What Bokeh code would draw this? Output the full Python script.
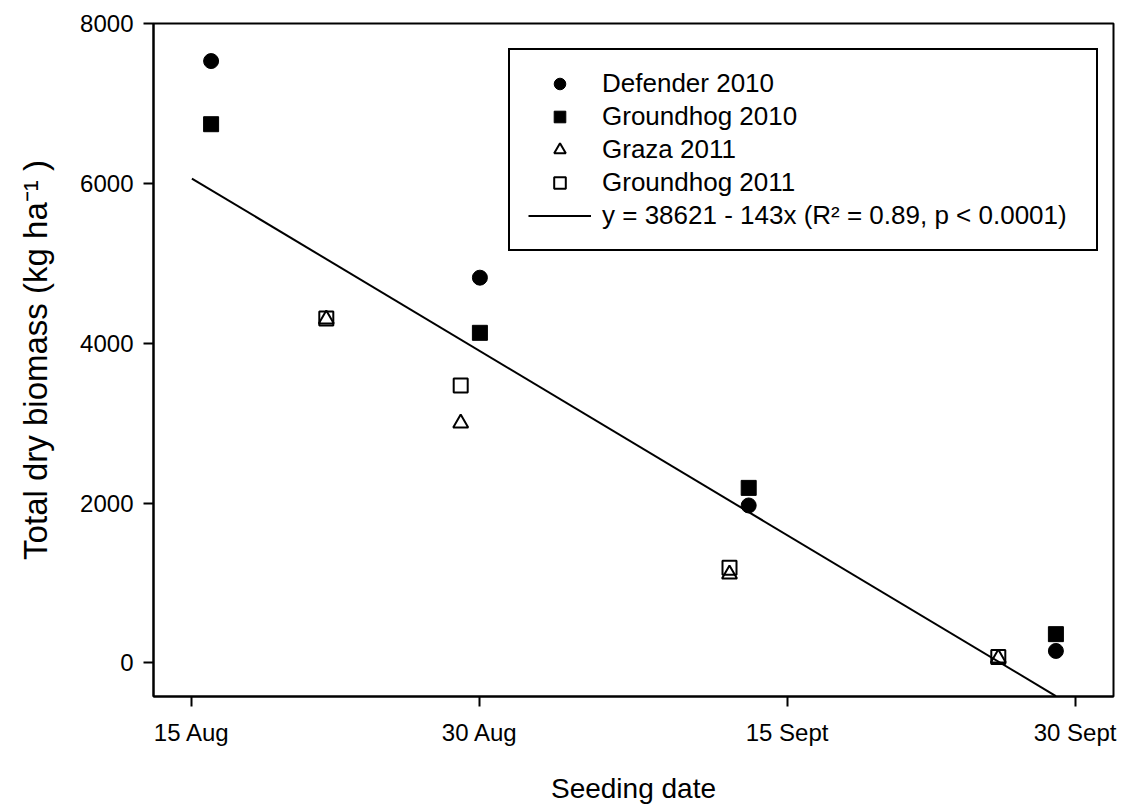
from bokeh.plotting import figure
from bokeh.models import Range1d, FixedTicker, Legend, LegendItem
from bokeh.embed import file_html
from bokeh.resources import INLINE

# Seeding date as day of year
tick_days = [227, 242, 258, 273]
tick_labels = ["15 Aug", "30 Aug", "15 Sept", "30 Sept"]
y_ticks = [0, 2000, 4000, 6000, 8000]

defender2010_x = [228, 242, 256, 272]
defender2010_y = [7530, 4820, 1970, 150]

groundhog2010_x = [228, 242, 256, 272]
groundhog2010_y = [6740, 4130, 2190, 360]

graza2011_x = [234, 241, 255, 269]
graza2011_y = [4300, 3000, 1110, 60]

groundhog2011_x = [234, 241, 255, 269]
groundhog2011_y = [4310, 3470, 1190, 75]

fit_x = [227, 272]
fit_y = [6060, -415]
fit_label = "y = 38621 - 143x (R\u00b2 = 0.89, p < 0.0001)"

FONT = "Liberation Sans"

p = figure(width=1131, height=808, output_backend="svg", toolbar_location=None,
           x_range=Range1d(225, 275), y_range=Range1d(-420, 8000),
           min_border_left=153, min_border_right=18, min_border_top=23,
           min_border_bottom=112)

p.grid.visible = False
p.outline_line_color = "black"
p.outline_line_width = 2
p.outline_line_alpha = 1
p.background_fill_color = "white"
p.border_fill_color = "white"

for ax in (p.xaxis[0], p.yaxis[0]):
    ax.axis_line_width = 2
    ax.axis_line_color = "black"
    ax.major_tick_line_width = 2
    ax.major_tick_in = 0
    ax.major_tick_out = 10
    ax.minor_tick_line_color = None
    ax.major_label_text_font = FONT
    ax.major_label_text_font_size = "24px"
    ax.major_label_text_color = "black"
    ax.axis_label_text_font = FONT
    ax.axis_label_text_font_style = "normal"
    ax.axis_label_text_color = "black"

p.xaxis.ticker = FixedTicker(ticks=tick_days)
p.xaxis.major_label_overrides = {d: l for d, l in zip(tick_days, tick_labels)}
p.xaxis.major_label_standoff = 12
p.xaxis.axis_label = "Seeding date"
p.xaxis.axis_label_text_font_size = "28px"
p.xaxis.axis_label_standoff = 24

p.yaxis.ticker = FixedTicker(ticks=y_ticks)
p.yaxis.major_label_standoff = 10
p.yaxis.axis_label = "Total dry biomass (kg ha\u207b\u00b9 )"
p.yaxis.axis_label_text_font_size = "33px"
p.yaxis.axis_label_standoff = 23

r_fit = p.line(fit_x, fit_y, line_color="black", line_width=2)

r1 = p.scatter(defender2010_x, defender2010_y, marker="circle", size=15,
               fill_color="black", line_color="black")
r2 = p.scatter(groundhog2010_x, groundhog2010_y, marker="square", size=15,
               fill_color="black", line_color="black")
r3 = p.scatter(graza2011_x, graza2011_y, marker="triangle", size=15,
               fill_color=None, line_color="black", line_width=2)
r4 = p.scatter(groundhog2011_x, groundhog2011_y, marker="square", size=14,
               fill_color=None, line_color="black", line_width=2)

legend = Legend(items=[
    LegendItem(label="Defender 2010", renderers=[r1]),
    LegendItem(label="Groundhog 2010", renderers=[r2]),
    LegendItem(label="Graza 2011", renderers=[r3]),
    LegendItem(label="Groundhog 2011", renderers=[r4]),
    LegendItem(label=fit_label, renderers=[r_fit]),
], location=(355, 445))
legend.border_line_color = "black"
legend.border_line_width = 2
legend.border_line_alpha = 1
legend.background_fill_alpha = 1
legend.label_text_font = FONT
legend.label_text_font_size = "26px"
legend.label_text_color = "black"
legend.padding = 18
legend.spacing = 2
legend.glyph_width = 63
legend.glyph_height = 29
legend.label_height = 29
legend.label_width = 476
legend.label_standoff = 11
legend.margin = 0
p.add_layout(legend, "center")

open("out.html", "w").write(file_html(p, INLINE))
